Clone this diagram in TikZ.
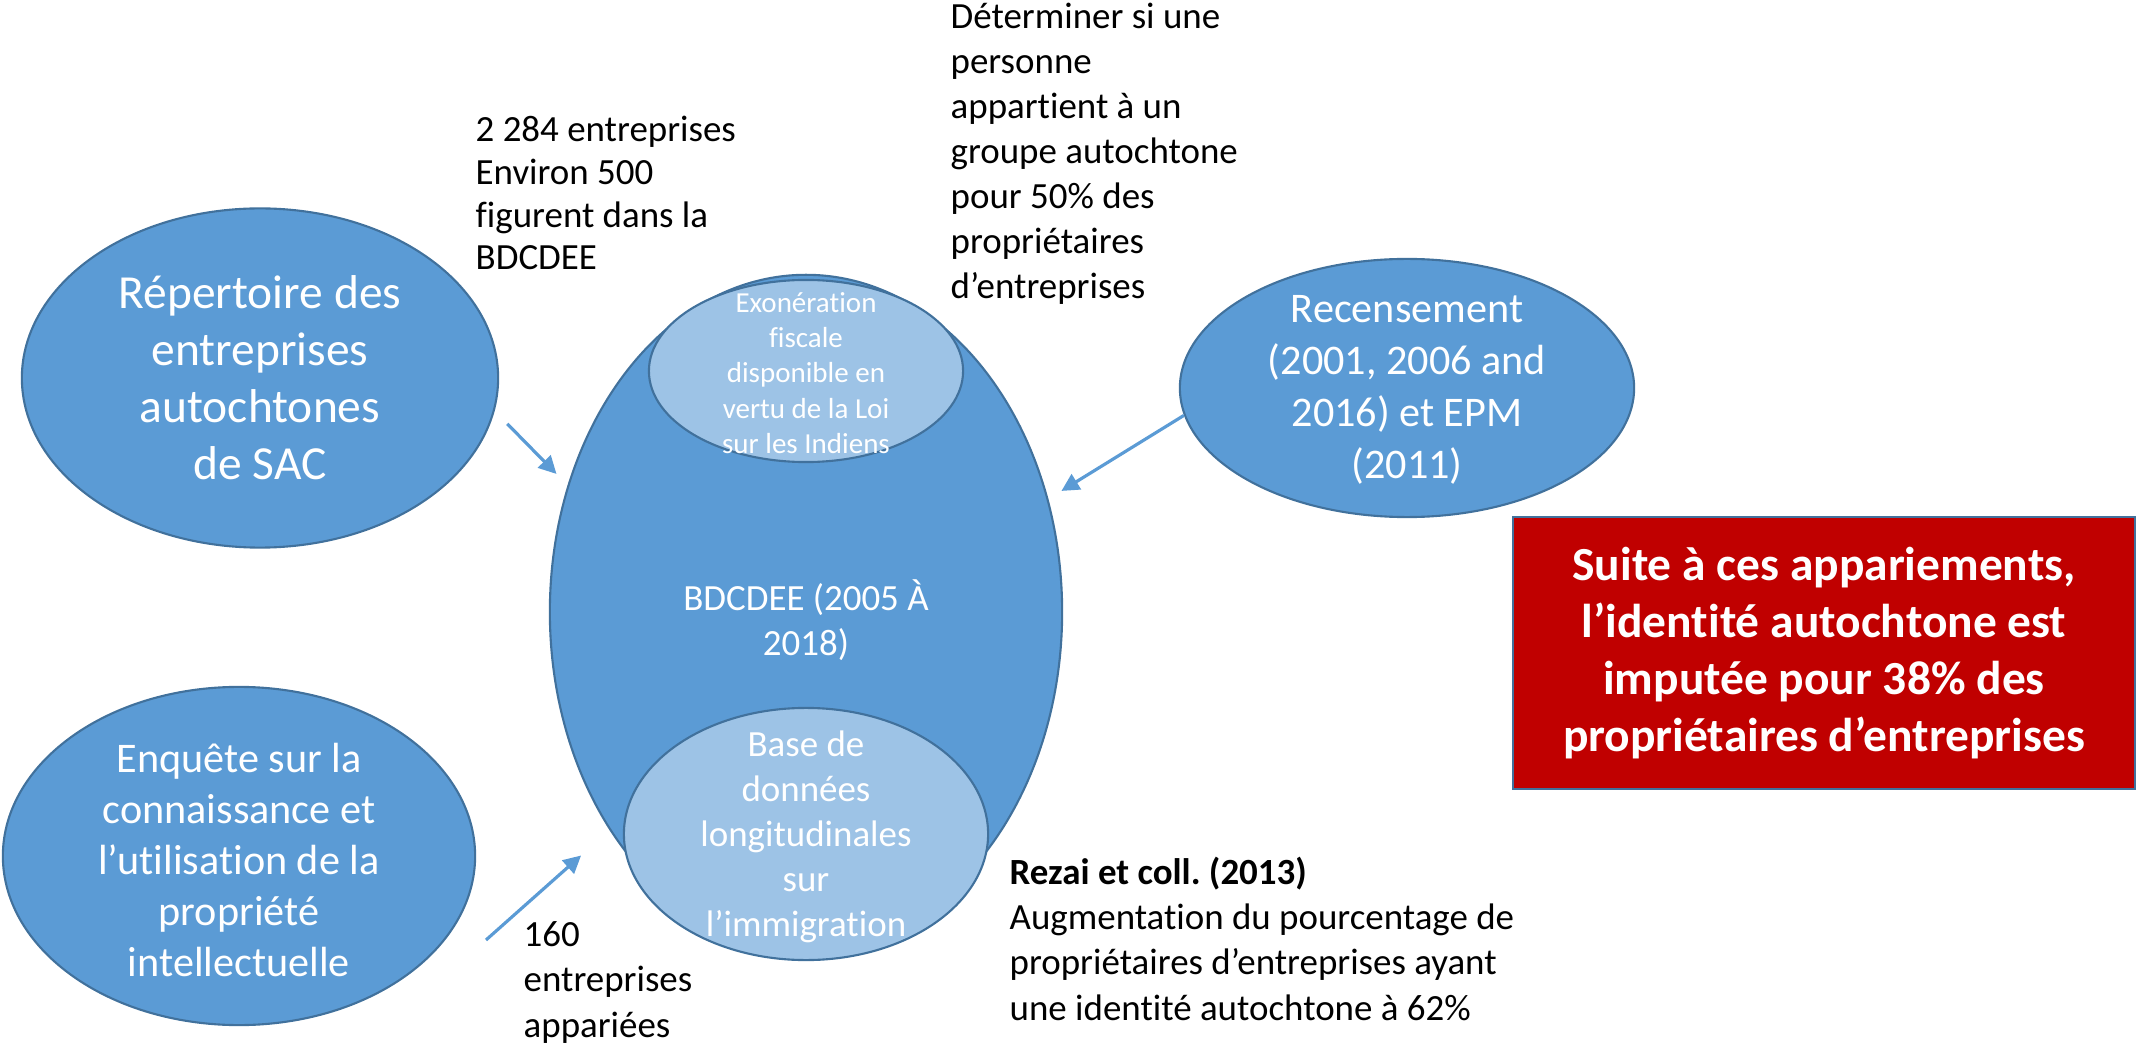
\documentclass[tikz,border=0pt]{standalone}
\usepackage{fontspec}
\setmainfont{Carlito}[Ligatures=NoCommon]
\frenchspacing
\usetikzlibrary{arrows.meta}
\usetikzlibrary{shapes.geometric, positioning}
\definecolor{blobblue}{HTML}{5B9BD5}
\definecolor{blobline}{HTML}{41719C}
\definecolor{paleblue}{HTML}{9DC3E6}
\definecolor{boxred}{HTML}{C00000}
\newcommand{\setfs}[2]{\fontsize{#1}{#2}\selectfont}
\tikzset{
    blobE/.style args={#1 #2}{
        ellipse, draw=blobline, line width=0.6pt, fill=blobblue,
        inner sep=0pt, minimum width=#1, minimum height=#2
    },
    paleE/.style args={#1 #2}{
        blobE={#1 #2}, fill=paleblue
    },
    inTxt/.style={text=white, align=center, inner sep=0pt},
    % anchored on the baseline of the last line
    noteT/.style={align=left, anchor=base west, inner sep=0pt, text=black,
        font=\setfs{10.5pt}{12.8pt}},
    arrowB/.style={draw=blobblue, line width=0.9pt, -{Triangle[length=5pt,width=5pt]}}
}
\tikzset{
    redbox/.style={
        rectangle, draw=blobline, line width=0.6pt, fill=boxred,
        minimum width=6.22cm, minimum height=2.72cm,
        text=white, align=center, font=\bfseries\setfs{13.5pt}{16.2pt}
    }
}

\begin{document}
\begin{tikzpicture}[x=0.01cm, y=-0.01cm]
    \useasboundingbox (0,0) rectangle (2136,1046);
    % sources
    \node[blobE={4.76cm 3.39cm}] (repert) at (260,378) {};
    \node[blobE={4.72cm 3.38cm}] (enquete) at (239,856) {};
    \node[blobE={4.54cm 2.58cm}] (recens) at (1407,388) {};
    \node[inTxt, font=\setfs{13.5pt}{16.2pt}] (repert-txt) at (repert.center)
        {Répertoire des\\entreprises\\autochtones\\de SAC};
    \node[inTxt, font=\setfs{12pt}{14.5pt}] (enquete-txt) at (239,860)
        {Enquête sur la\\connaissance et\\l’utilisation de la\\propriété\\intellectuelle};
    \node[inTxt, font=\setfs{12pt}{14.8pt}] (recens-txt) at (1407,390)
        {Recensement\\(2001, 2006 and\\2016) et EPM\\(2011)};
    % main database
    \node[blobE={5.12cm 6.74cm}] (bdcdee) at (806,612) {};
    \node[paleE={3.14cm 1.82cm}] (exo) at (806,371) {};
    \node[paleE={3.64cm 2.52cm}] (bdil) at (806,834) {};
    \node[inTxt, font=\setfs{10.5pt}{12.8pt}] (bdcdee-txt) at (806,620)
        {BDCDEE (2005 À\\2018)};
    \node[inTxt, font=\setfs{8.25pt}{10pt}] (exo-txt) at (806,373)
        {Exonération\\fiscale\\disponible en\\vertu de la Loi\\sur les Indiens};
    \node[inTxt, font=\setfs{10.5pt}{12.8pt}] (bdil-txt) at (806,837)
        {Base de\\données\\longitudinales\\sur\\l’immigration};
    % notes
    \node[noteT, font=\setfs{10.5pt}{12.2pt}] (note-sac) at (475,270)
        {2 284 entreprises\\Environ 500\\figurent dans la\\BDCDEE};
    \node[noteT] (note-recens) at (950,299)
        {Déterminer si une\\personne\\appartient à un\\groupe autochtone\\pour 50\% des\\propriétaires\\d’entreprises};
    \node[noteT] (note-enq) at (523,1037)
        {160\\entreprises\\appariées};
    \node[noteT] (note-rezai) at (1009,1020)
        {\textbf{Rezai et coll. (2013)}\\Augmentation du pourcentage de\\propriétaires d’entreprises ayant\\une identité autochtone à 62\%};
    \node[redbox] (result) at (1824,653)
        {Suite à ces appariements,\\l’identité autochtone est\\imputée pour 38\% des\\propriétaires d’entreprises};
    % links
    \coordinate (enq-tail) at (486,940);
    \draw[arrowB, shorten <=0.18cm, shorten >=0.158cm] (repert.-8.3) -- (bdcdee.152.3);
    \draw[arrowB, shorten >=0.38cm] (enq-tail) -- (bdcdee.228.6);
    \draw[arrowB, shorten >=0.153cm] (recens.187.4) -- (bdcdee.25.5);
\end{tikzpicture}
\end{document}
